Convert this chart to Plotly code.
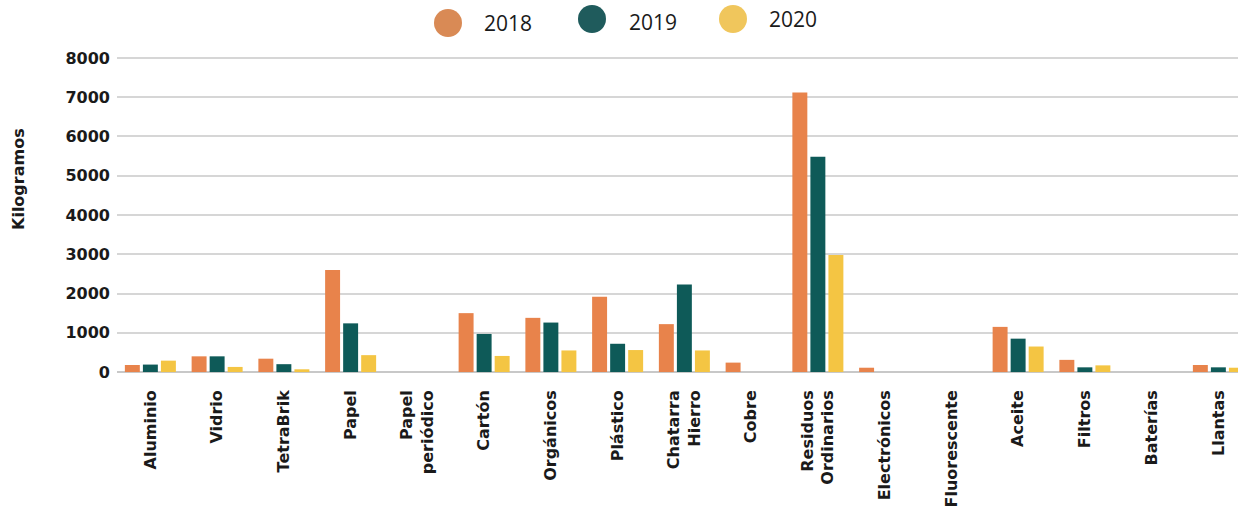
import plotly.graph_objects as go

categories = ["Aluminio", "Vidrio", "TetraBrik", "Papel", "Papel<br>periódico", "Cartón",
              "Orgánicos", "Plástico", "Chatarra<br>Hierro", "Cobre", "Residuos<br>Ordinarios",
              "Electrónicos", "Fluorescente", "Aceite", "Filtros", "Baterías", "Llantas"]
years = ["2018", "2019", "2020"]
v2018 = [180, 400, 340, 2600, 0, 1500, 1380, 1920, 1220, 240, 7120, 110, 0, 1150, 310, 0, 180]
v2019 = [190, 400, 200, 1240, 0, 970, 1260, 720, 2230, 0, 5480, 0, 0, 850, 120, 0, 120]
v2020 = [290, 130, 70, 430, 0, 410, 550, 560, 550, 0, 2980, 0, 0, 650, 170, 0, 110]
yticks = [0, 1000, 2000, 3000, 4000, 5000, 6000, 7000, 8000]

bar_colors = ["#E8834B", "#0E5A58", "#F4C543"]
legend_colors = ["#D98A55", "#1F5B5C", "#F0C65C"]

FONT = "DejaVu Sans"
LFONT = "Open Sans"
W, H = 1238, 513
# plot area in pixels: left 117, right 1238, top 54, bottom 374
ML, MR, MT, MB = 117, 0, 54, 513 - 374

fig = go.Figure()
for name, vals, col in zip(years, [v2018, v2019, v2020], bar_colors):
    fig.add_trace(go.Bar(x=list(range(len(categories))), y=vals, name=name,
                         marker=dict(color=col, line=dict(width=0)), showlegend=False))

pw = W - ML - MR
ph = H - MT - MB
def px_x(p):
    return (p - ML) / pw
def px_y(p):
    return (H - MB - p) / ph

leg_circles = [(448, 23), (592, 19), (733, 19)]
leg_texts = [(482, 23), (627, 22), (767, 19)]
shapes = []
annotations = []
for (cx, cy), (tx, ty), col, name in zip(leg_circles, leg_texts, legend_colors, years):
    shapes.append(dict(type="circle", xref="paper", yref="paper",
                       xsizemode="pixel", ysizemode="pixel",
                       xanchor=px_x(cx), yanchor=px_y(cy),
                       x0=-14, x1=14, y0=-14, y1=14,
                       fillcolor=col, line=dict(width=0)))
    annotations.append(dict(text=name, xref="paper", yref="paper",
                            x=px_x(tx), y=px_y(ty), xanchor="left", yanchor="middle",
                            showarrow=False,
                            font=dict(family=LFONT, size=21, color="#1a1a1a")))

annotations.append(dict(text="Kilogramos", xref="paper", yref="paper",
                        x=px_x(18), y=px_y(179), xanchor="center", yanchor="middle",
                        textangle=-90, showarrow=False,
                        font=dict(family=FONT, size=16, color="#1a1a1a", weight=700)))

fig.update_layout(
    width=W, height=H,
    margin=dict(l=ML, r=MR, t=MT, b=MB, pad=0),
    paper_bgcolor="white", plot_bgcolor="white",
    barmode="group", bargap=0.19, bargroupgap=0.17,
    shapes=shapes, annotations=annotations,
    showlegend=False,
    font=dict(family=FONT, color="#1a1a1a"),
)
fig.update_xaxes(
    tickmode="array", tickvals=list(range(len(categories))), ticktext=categories,
    tickangle=-90, range=[-0.5, pw / 66.75 - 0.5],
    showgrid=False, showline=False, zeroline=False, ticks="",
    ticklabelstandoff=12, automargin=False,
    tickfont=dict(family=FONT, size=16, color="#1a1a1a", weight=700),
)
fig.update_yaxes(
    range=[-50, 8100], tickmode="array", tickvals=yticks,
    showgrid=True, gridcolor="#D6D6D6", gridwidth=2,
    zeroline=True, zerolinecolor="#C8C8C8", zerolinewidth=2,
    showline=False, ticks="", ticklabelstandoff=6, automargin=False,
    tickfont=dict(family=FONT, size=16, color="#1a1a1a", weight=700),
)

fig.write_html("out.html", config={"displayModeBar": False},
               post_script="document.body.style.margin='0';")
